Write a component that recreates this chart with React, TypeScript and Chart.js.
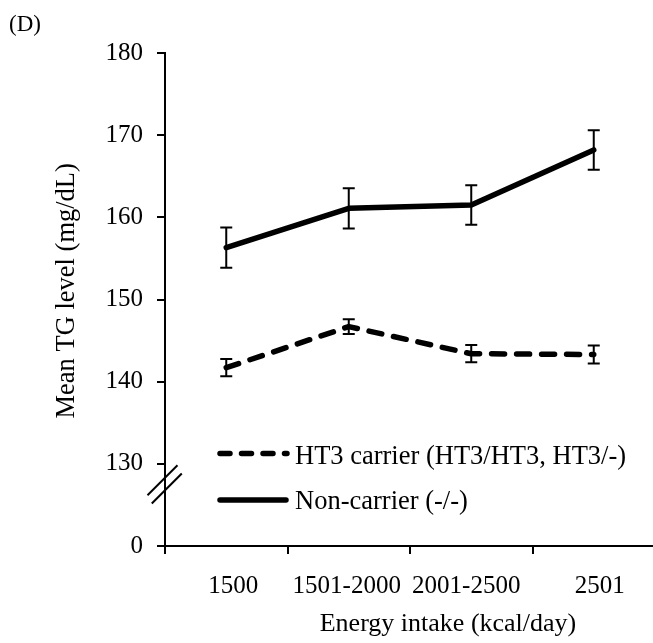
import { useEffect, useRef } from 'react';
import { Chart, registerables } from 'chart.js';

Chart.register(...registerables);

const categories = ['1500', '1501-2000', '2001-2500', '2501'];
const carrierMeans = [141.7, 146.7, 143.4, 143.3];
const carrierErrors = [1.05, 0.9, 1.05, 1.1];
const nonCarrierMeans = [156.3, 161.1, 161.5, 168.2];
const nonCarrierErrors = [2.45, 2.45, 2.4, 2.4];
const yTickValues = [120, 130, 140, 150, 160, 170, 180];
const yTickLabels = ['0', '130', '140', '150', '160', '170', '180'];
const seriesLabels = ['HT3 carrier (HT3/HT3, HT3/-)', 'Non-carrier (-/-)'];
const xTitle = 'Energy intake (kcal/day)';
const yTitle = 'Mean TG level (mg/dL)';
const panelLabel = '(D)';
const breakValue = 127.5;

const FONT = '"Liberation Serif", "Times New Roman", serif';
// small horizontal nudges of the category labels (spreadsheet-style justification)
const xLabelNudge = [7, -2, -5, 6];

const labelNudgePlugin = {
  id: 'labelNudge',
  beforeDraw(chart: any) {
    const xs = chart.scales.x;
    const items = xs.getLabelItems(chart.chartArea);
    if (items && !xs._nudged) {
      items.forEach((it: any, i: number) => {
        if (it && it.options && it.options.translation) {
          it.options.translation[0] += xLabelNudge[i] || 0;
        }
      });
      xs._nudged = true;
    }
  },
  afterUpdate(chart: any) {
    if (chart.scales.x) chart.scales.x._nudged = false;
  },
};

const errorBarsPlugin = {
  id: 'errorBars',
  afterDatasetsDraw(chart: any) {
    const ctx = chart.ctx;
    const y = chart.scales.y;
    const errs = [carrierErrors, nonCarrierErrors];
    ctx.save();
    ctx.strokeStyle = '#000';
    ctx.lineWidth = 2;
    ctx.lineCap = 'butt';
    chart.data.datasets.forEach((ds: any, di: number) => {
      const meta = chart.getDatasetMeta(di);
      meta.data.forEach((pt: any, i: number) => {
        const v = ds.data[i];
        const e = errs[di][i];
        const yt = y.getPixelForValue(v + e);
        const yb = y.getPixelForValue(v - e);
        ctx.beginPath();
        ctx.moveTo(pt.x, yt);
        ctx.lineTo(pt.x, yb);
        ctx.moveTo(pt.x - 6, yt);
        ctx.lineTo(pt.x + 6, yt);
        ctx.moveTo(pt.x - 6, yb);
        ctx.lineTo(pt.x + 6, yb);
        ctx.stroke();
      });
    });
    ctx.restore();
  },
};

const decorPlugin = {
  id: 'decor',
  afterDraw(chart: any) {
    const ctx = chart.ctx;
    const area = chart.chartArea;
    const y = chart.scales.y;
    ctx.save();
    // axis break marks
    const cy = y.getPixelForValue(breakValue);
    const cx = area.left;
    ctx.strokeStyle = '#000';
    ctx.lineWidth = 2;
    ctx.lineCap = 'butt';
    const h = 15;
    const centers = [
      [cx - 2.5, cy - 4.2],
      [cx + 1.8, cy + 4.2],
    ];
    centers.forEach(([x0, y0]) => {
      ctx.beginPath();
      ctx.moveTo(x0 - h, y0 + h);
      ctx.lineTo(x0 + h, y0 - h);
      ctx.stroke();
    });

    // legend
    const legendY = [453.5, 500];
    const textBase = [463.5, 508.5];
    ctx.lineWidth = 5.5;
    ctx.lineCap = 'round';
    ctx.beginPath();
    ctx.setLineDash([10, 11.5]);
    ctx.moveTo(220, legendY[0]);
    ctx.lineTo(287, legendY[0]);
    ctx.stroke();
    ctx.setLineDash([]);
    ctx.beginPath();
    ctx.moveTo(220, legendY[1]);
    ctx.lineTo(286, legendY[1]);
    ctx.stroke();

    ctx.fillStyle = '#000';
    ctx.font = `26.5px ${FONT}`;
    ctx.textAlign = 'left';
    ctx.textBaseline = 'alphabetic';
    ctx.fillText(seriesLabels[0], 295, textBase[0]);
    ctx.fillText(seriesLabels[1], 295, textBase[1]);

    // x title
    ctx.font = `26px ${FONT}`;
    ctx.textAlign = 'center';
    ctx.fillText(xTitle, 448, 630.5);

    // y title
    ctx.save();
    ctx.translate(73.5, 290.8);
    ctx.rotate(-Math.PI / 2);
    ctx.textAlign = 'center';
    ctx.textBaseline = 'alphabetic';
    ctx.font = `26.5px ${FONT}`;
    ctx.fillText(yTitle, 0, 0);
    ctx.restore();

    // panel label
    ctx.font = `23px ${FONT}`;
    ctx.textAlign = 'left';
    ctx.fillText(panelLabel, 9, 31);
    ctx.restore();
  },
};

export default function App() {
  const canvasRef = useRef<HTMLCanvasElement | null>(null);

  useEffect(() => {
    if (!canvasRef.current) return;
    const chart = new Chart(canvasRef.current, {
      type: 'line',
      data: {
        labels: categories,
        datasets: [
          {
            label: seriesLabels[0],
            data: carrierMeans,
            borderColor: '#000',
            backgroundColor: '#000',
            borderWidth: 5.5,
            borderDash: [13, 12],
            borderCapStyle: 'round',
            borderJoinStyle: 'round',
            pointRadius: 0,
            tension: 0,
            fill: false,
          },
          {
            label: seriesLabels[1],
            data: nonCarrierMeans,
            borderColor: '#000',
            backgroundColor: '#000',
            borderWidth: 5.5,
            borderCapStyle: 'round',
            borderJoinStyle: 'round',
            pointRadius: 0,
            tension: 0,
            fill: false,
          },
        ],
      },
      options: {
        responsive: false,
        animation: false,
        events: [],
        layout: { padding: { top: 53, right: 5, left: 0, bottom: 0 } },
        plugins: {
          legend: { display: false },
          tooltip: { enabled: false },
          title: { display: false },
        },
        scales: {
          x: {
            type: 'category',
            offset: true,
            grid: {
              display: true,
              drawOnChartArea: false,
              drawTicks: true,
              tickLength: 8,
              offset: true,
              color: '#000',
              lineWidth: 2,
            },
            border: { display: true, color: '#000', width: 2 },
            ticks: {
              color: '#000',
              font: { family: FONT, size: 25 },
              padding: 17,
              maxRotation: 0,
              minRotation: 0,
              autoSkip: false,
            },
            afterFit: (s: any) => {
              s.height = 97;
            },
          },
          y: {
            type: 'linear',
            min: 120,
            max: 180,
            afterBuildTicks: (s: any) => {
              s.ticks = yTickValues.map((v) => ({ value: v }));
            },
            grid: {
              display: true,
              drawOnChartArea: false,
              drawTicks: true,
              tickLength: 8,
              color: '#000',
              lineWidth: 2,
            },
            border: { display: true, color: '#000', width: 2 },
            ticks: {
              color: '#000',
              font: { family: FONT, size: 25 },
              padding: 14,
              callback: (v: any) => {
                const idx = yTickValues.indexOf(Number(v));
                return idx >= 0 ? yTickLabels[idx] : '';
              },
            },
            afterFit: (s: any) => {
              s.width = 165;
            },
          },
        },
      } as any,
      plugins: [labelNudgePlugin, errorBarsPlugin, decorPlugin],
    });
    return () => chart.destroy();
  }, []);

  return (
    <div
      style={{
        position: 'fixed',
        left: 0,
        top: 0,
        width: 653,
        height: 643,
        overflow: 'hidden',
        background: '#fff',
      }}
    >
      <canvas ref={canvasRef} width={660} height={643} style={{ display: 'block' }} />
    </div>
  );
}
